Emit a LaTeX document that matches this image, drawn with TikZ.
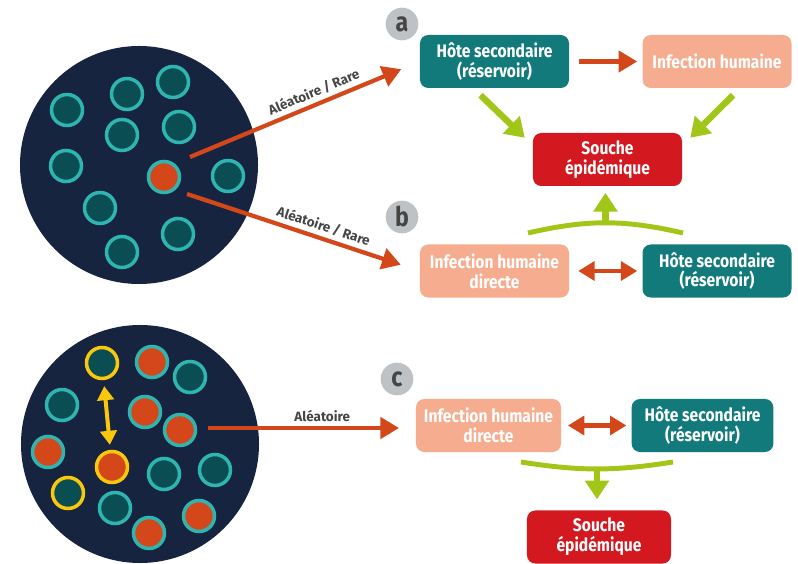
\documentclass[tikz,border=0pt]{standalone}
\usepackage{fontspec}
\setmainfont[FakeStretch=0.86]{Fira Sans}
\newfontfamily\routefont{Fira Sans}
\usetikzlibrary{arrows.meta,positioning}

\definecolor{navy}{HTML}{172440}
\definecolor{turq}{HTML}{2FB5B0}
\definecolor{deepteal}{HTML}{0A4D52}
\definecolor{rust}{HTML}{D4471A}
\definecolor{gold}{HTML}{F9C80E}
\definecolor{hostcol}{HTML}{137A7C}
\definecolor{humancol}{HTML}{F6AC8E}
\definecolor{straincol}{HTML}{D3181F}
\definecolor{lime}{HTML}{A2C617}
\definecolor{badgecol}{HTML}{BEC2C5}
\definecolor{labelcol}{HTML}{454545}

\tikzset{
  pool/.style={circle, fill=navy, minimum size=7.14cm, inner sep=0pt},
  cell/.style={circle, draw=turq, line width=3pt, fill=deepteal, minimum size=0.93cm, inner sep=0pt},
  hit/.style={cell, fill=rust},
  tagcell/.style={cell, draw=gold},
  taghit/.style={hit, draw=gold},
  box/.style={rectangle, rounded corners=0.25cm, minimum width=4.47cm, minimum height=1.59cm,
    align=center, text=white, font=\bfseries\fontsize{15.5}{17}\selectfont},
  hostbox/.style={box, fill=hostcol},
  humanbox/.style={box, fill=humancol},
  strainbox/.style={box, fill=straincol},
  badge/.style={circle, fill=badgecol, minimum size=0.98cm, inner sep=0pt, text=labelcol,
    font=\bfseries\fontsize{23}{23}\selectfont},
  route/.style={line width=3.6pt, draw=rust, -{Triangle[length=16pt,width=18pt]}},
  link/.style={line width=4pt, draw=rust, {Triangle[length=14pt,width=16pt]}-{Triangle[length=14pt,width=16pt]}},
  swap/.style={line width=3.4pt, draw=gold, {Triangle[length=12pt,width=14pt]}-{Triangle[length=12pt,width=14pt]}},
  feed/.style={line width=5.5pt, draw=lime, -{Triangle[length=16pt,width=20pt]}},
  merge/.style={line width=4.2pt, draw=lime},
  routelabel/.style={text=labelcol, font=\routefont\bfseries\fontsize{11.5}{12}\selectfont}
}

\begin{document}
\begin{tikzpicture}[x=0.03cm, y=-0.03cm]
\useasboundingbox (0,0) rectangle (798,564);

% pools
\node[pool] (poolAB) at (139,165) {};
\node[pool] (poolC) at (140,444) {};

\foreach \x/\y [count=\i] in {67/110, 127/94, 173/82, 122/135, 179/127, 66/166, 228/176, 100/208, 178/234, 122/252}
  \node[cell] (ab\i) at (\x,\y) {};
\node[hit] (abhit) at (164,177) {};

\foreach \x/\y/\s [count=\i] in {102/363/tagcell, 152/362/hit, 190/377/cell, 62/405/cell, 145/412/hit,
    180/430/hit, 48/452/hit, 112/467/taghit, 164/474/cell, 215/470/cell, 68/493/tagcell,
    115/508/cell, 199/516/hit, 149/533/hit}
  \node[\s] (c\i) at (\x,\y) {};
\draw[swap, shorten <=0.18cm, shorten >=0.15cm] (c1) -- (c8);

% panel a
\node[badge] (badgeA) at (402,24) {a};
\node[hostbox] (hostA) at (494.5,61.5) {Hôte secondaire\\(réservoir)};
\node[humanbox] (humanA) at (717,61.5) {Infection humaine};
\node[strainbox] (strainA) at (607.5,159.5) {Souche\\épidémique};
\draw[route, shorten <=0.3cm, shorten >=0.15cm] (hostA) -- (humanA);
\draw[feed] ([shift={(-14,7)}]hostA.south) -- ([shift={(-8,5)}]strainA.north west);
\draw[feed] ([shift={(16,7)}]humanA.south) -- ([shift={(8,5)}]strainA.north east);

% panel b
\node[badge] (badgeB) at (402,217) {b};
\node[humanbox] (humanB) at (494.5,271) {Infection humaine\\directe};
\node[hostbox] (hostB) at (717,271) {Hôte secondaire\\(réservoir)};
\draw[link, shorten <=0.27cm, shorten >=0.15cm] (humanB) -- (hostB);
\coordinate (mergeB1) at (528,233);
\coordinate (mergeB2) at (683,233);
\draw[merge] (mergeB1) to[bend left=13] coordinate[midway] (mergeBm) (mergeB2);
\draw[feed, shorten >=0.2cm] (mergeBm) -- (mergeBm |- strainA.south);

% panel c
\node[badge] (badgeC) at (397,379) {c};
\node[humanbox, minimum width=4.35cm] (humanC) at (488.5,425.5) {Infection humaine\\directe};
\node[hostbox, minimum width=4.25cm] (hostC) at (702.5,425.5) {Hôte secondaire\\(réservoir)};
\node[strainbox, minimum width=4.32cm] (strainC) at (599,537) {Souche\\épidémique};
\draw[link, shorten <=0.2cm, shorten >=0.15cm] (humanC) -- (hostC);
\coordinate (mergeC1) at (521,462);
\coordinate (mergeC2) at (673,462);
\draw[merge] (mergeC1) to[bend right=9] coordinate[midway] (mergeCm) (mergeC2);
\draw[feed, shorten >=0.33cm] (mergeCm) -- (mergeCm |- strainC.north);

% routes from the pools
\coordinate (outA) at (190,157);
\coordinate (outB) at (187,194);
\coordinate (outC) at (208,428);
\draw[route, shorten >=0.6cm] (outA) -- node[routelabel, sloped, above, pos=0.56] {Aléatoire / Rare} (hostA.west);
\draw[route, shorten >=0.6cm] (outB) -- node[routelabel, sloped, above, pos=0.57] {Aléatoire / Rare} (humanB.west);
\draw[route, shorten >=0.5cm] (outC) -- node[routelabel, above, pos=0.55] {Aléatoire} (outC -| humanC.west);
\end{tikzpicture}
\end{document}
